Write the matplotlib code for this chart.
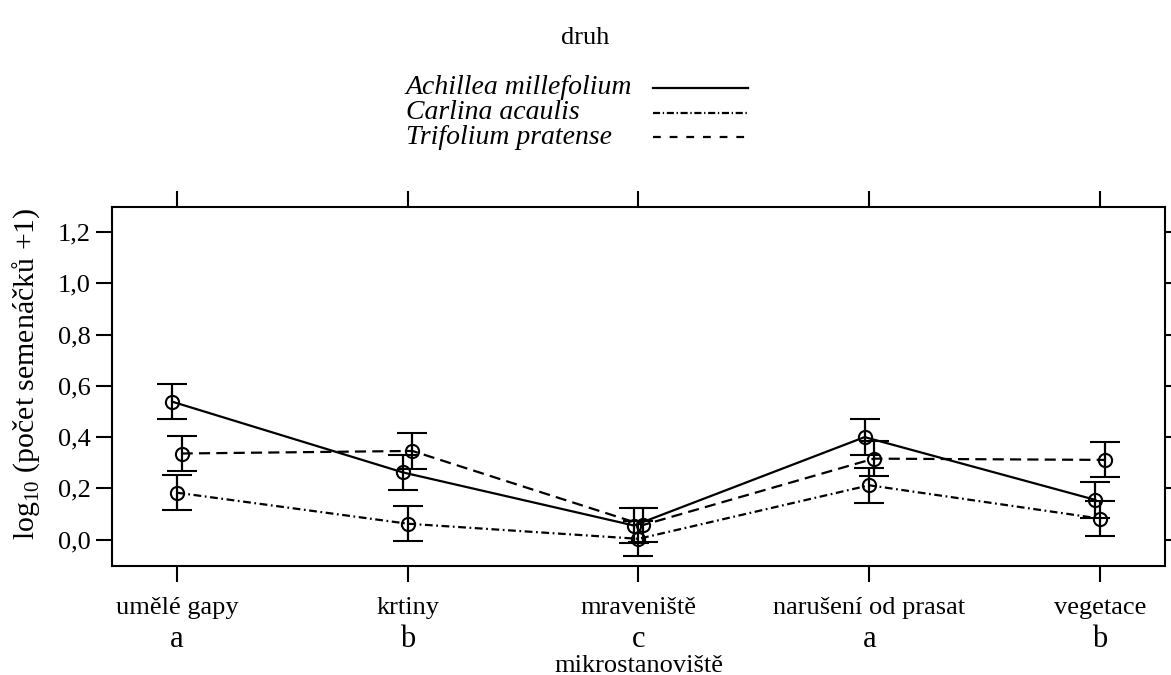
import matplotlib

matplotlib.use("Agg")
import matplotlib.pyplot as plt
import numpy as np
from matplotlib.lines import Line2D

plt.rcParams["font.family"] = ["Liberation Serif", "DejaVu Serif"]
plt.rcParams["mathtext.fontset"] = "custom"
plt.rcParams["mathtext.rm"] = "Liberation Serif"

# data
sites = ["umělé gapy", "krtiny", "mraveniště", "narušení od prasat", "vegetace"]
site_letters = ["a", "b", "c", "a", "b"]
species = ["Achillea millefolium", "Carlina acaulis", "Trifolium pratense"]

achillea_mean = [0.538, 0.262, 0.055, 0.400, 0.155]
achillea_err = [0.069, 0.069, 0.068, 0.069, 0.069]
carlina_mean = [0.183, 0.062, 0.003, 0.212, 0.082]
carlina_err = [0.068, 0.068, 0.068, 0.068, 0.069]
trifolium_mean = [0.336, 0.346, 0.057, 0.316, 0.311]
trifolium_err = [0.069, 0.069, 0.068, 0.068, 0.068]

means = [achillea_mean, carlina_mean, trifolium_mean]
errs = [achillea_err, carlina_err, trifolium_err]
styles = ["-", (0, (3.5, 1.6, 0.8, 1.6)), (0, (5.0, 2.8))]
legend_styles = ["-", (0, (3.2, 1.2, 0.6, 1.2)), (0, (3.5, 4.0))]
offsets = [-0.02, 0.0, 0.02]

FS = 19

fig = plt.figure(figsize=(11.71, 6.75), dpi=100)
ax = fig.add_axes([0.0956, 0.1615, 0.8993, 0.5318])

x = np.arange(len(sites))
for m, e, ls, off in zip(means, errs, styles, offsets):
    xs = x + off
    ax.plot(xs, m, color="black", linestyle=ls, linewidth=1.6, zorder=2)
    ax.errorbar(xs, m, yerr=e, fmt="o", mfc="none", mec="black", ms=9.5,
                mew=1.5, ecolor="black", elinewidth=1.6, capsize=10.5,
                capthick=1.6, zorder=3)

ax.set_xlim(-0.282, 4.282)
ax.set_ylim(-0.103, 1.298)
ax.set_xticks(x)
ax.set_xticklabels(sites, fontsize=FS)
yt = np.arange(0, 1.21, 0.2)
ax.set_yticks(yt)
ax.set_yticklabels([f"{v:.1f}".replace(".", ",") for v in yt], fontsize=FS)
ax.tick_params(direction="out", length=11.5, width=1.5, top=True, right=True,
               pad=4)
ax.tick_params(axis="x", pad=10.5)
for sp in ax.spines.values():
    sp.set_linewidth(1.5)

for xi, letter in zip(x, site_letters):
    ax.text(xi, -0.205, letter, transform=ax.get_xaxis_transform(),
            ha="center", va="center", fontsize=FS + 3)

ax.set_xlabel("mikrostanoviště", fontsize=FS, labelpad=26)
ax.set_ylabel("log$_{10}$ (počet semenáčků +1)", fontsize=21.5)
ax.yaxis.set_label_coords(-0.066, 0.535)

# legend drawn by hand: names on the left, line keys on the right
fig.text(585 / 1171, 1 - 38 / 675, "druh", ha="center", va="center",
         fontsize=FS)
rows_y = [88, 112.5, 137]
for name, ls, ry in zip(species, legend_styles, rows_y):
    fy = 1 - ry / 675
    fig.text(406 / 1171, fy, name, ha="left", va="center", fontsize=20,
             style="italic")
    fig.add_artist(Line2D([653 / 1171, 748 / 1171], [fy, fy],
                          transform=fig.transFigure, color="black",
                          linestyle=ls, linewidth=1.6))

fig.savefig("out.png", dpi=100)
